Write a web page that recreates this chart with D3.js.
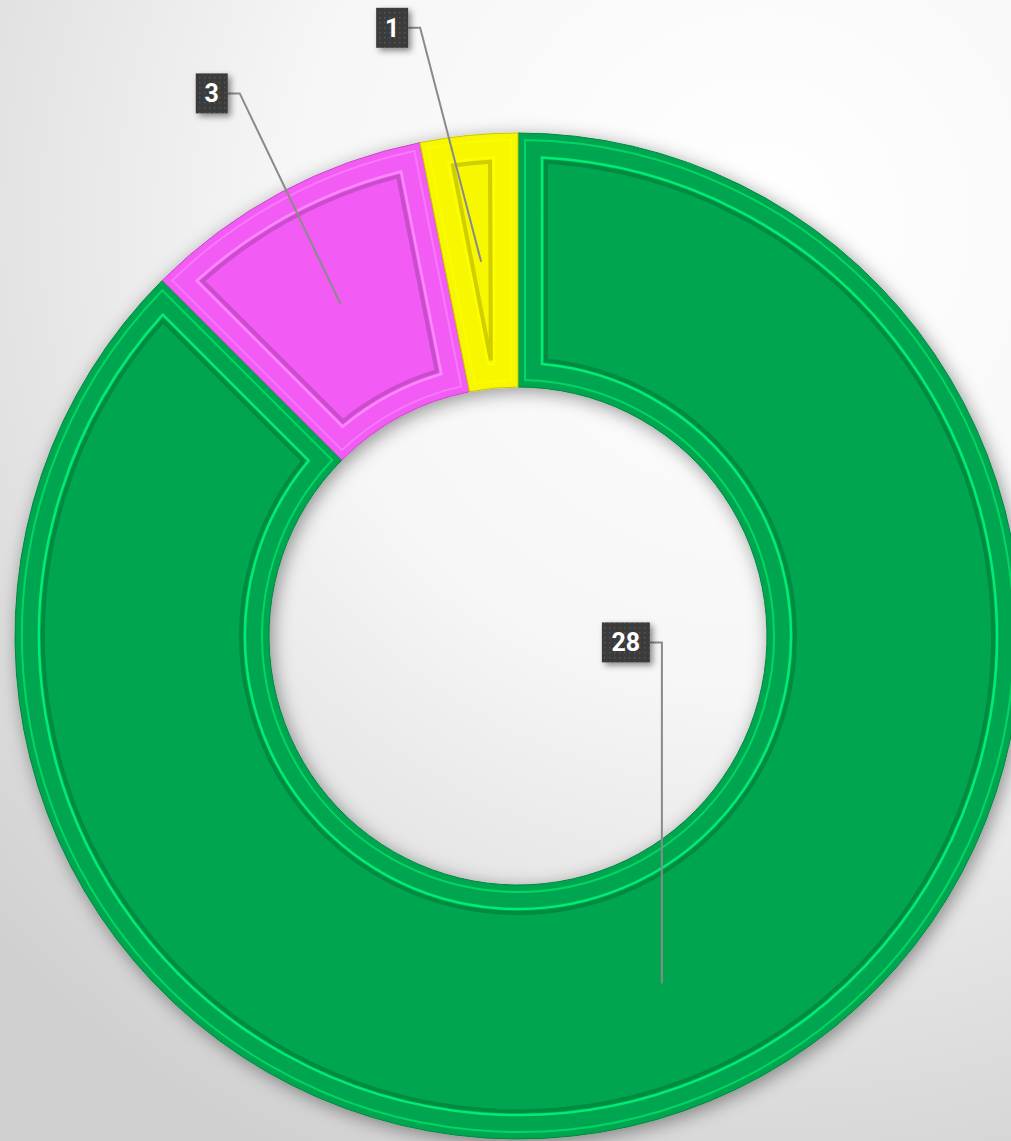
<!DOCTYPE html>
<html>
<head>
<meta charset="utf-8">
<script src="https://cdn.jsdelivr.net/npm/d3@7"></script>
<style>
  html, body { margin: 0; padding: 0; overflow: hidden; background: #fff; }
</style>
</head>
<body>
<div id="chart"></div>
<script>
// slices, clockwise from 12 o'clock
var categories = ["Groen", "Roze", "Geel"];
var values = [28, 3, 1];
var colors = ["#00a64f", "#f25cf4", "#f7f700"];

// where each label box sits relative to its slice centroid (elbow of the leader)
var labelOffsets = [[0, -341], [-101, -211], [-61, -234]];

var width = 1011,
  height = 1141,
  cx = 518,
  cy = 636,
  outerR = 503,
  innerR = 249,
  bevel = 28;

var svg = d3.select("#chart").append("svg")
  .attr("width", width)
  .attr("height", height);

var defs = svg.append("defs");

var bg = defs.append("radialGradient")
  .attr("id", "bg")
  .attr("gradientUnits", "userSpaceOnUse")
  .attr("cx", 760).attr("cy", 220).attr("r", 1050);
bg.append("stop").attr("offset", "0%").attr("stop-color", "#ffffff");
bg.append("stop").attr("offset", "45%").attr("stop-color", "#f6f6f6");
bg.append("stop").attr("offset", "100%").attr("stop-color", "#d0d0d0");

var shadow = defs.append("filter")
  .attr("id", "shadow")
  .attr("x", "-20%").attr("y", "-20%")
  .attr("width", "140%").attr("height", "140%");
shadow.append("feDropShadow")
  .attr("dx", 3).attr("dy", 4)
  .attr("stdDeviation", 9)
  .attr("flood-color", "#000")
  .attr("flood-opacity", 0.4);

var boxShadow = defs.append("filter")
  .attr("id", "boxShadow")
  .attr("x", "-50%").attr("y", "-50%")
  .attr("width", "200%").attr("height", "200%");
boxShadow.append("feDropShadow")
  .attr("dx", 3).attr("dy", 3)
  .attr("stdDeviation", 3)
  .attr("flood-color", "#000")
  .attr("flood-opacity", 0.45);

var dots = defs.append("pattern")
  .attr("id", "dots")
  .attr("patternUnits", "userSpaceOnUse")
  .attr("width", 5).attr("height", 5);
dots.append("rect").attr("width", 5).attr("height", 5).attr("fill", "#3b3b3b");
dots.append("rect").attr("x", 1).attr("y", 1).attr("width", 1.4).attr("height", 1.4).attr("fill", "#575757");

svg.append("rect")
  .attr("width", width)
  .attr("height", height)
  .attr("fill", "url(#bg)");

var data = categories.map(function(c, i) {
  return { name: c, value: values[i], color: colors[i], offset: labelOffsets[i] };
});

var pie = d3.pie()
  .sort(null)
  .value(function(d) { return d.value; });

var arcs = pie(data);

var arc = d3.arc()
  .innerRadius(innerR)
  .outerRadius(outerR);

// inset arcs for the bevelled panel look
function insetArc(d) {
  return d3.arc()
    .innerRadius(innerR + d)
    .outerRadius(outerR - d)
    .padRadius(outerR)
    .padAngle(2 * d / outerR);
}
var frameDark = insetArc(bevel),
  frameLight = insetArc(bevel - 4),
  rim = insetArc(7);

var g = svg.append("g")
  .attr("transform", "translate(" + cx + "," + cy + ")");

g.append("g")
  .attr("filter", "url(#shadow)")
  .selectAll("path")
  .data(arcs)
  .enter().append("path")
  .attr("d", arc)
  .attr("fill", function(d) { return d.data.color; })
  .attr("stroke", function(d) { return d3.rgb(d.data.color).darker(0.6); })
  .attr("stroke-width", 1);

var slice = g.append("g").selectAll("g")
  .data(arcs)
  .enter().append("g");

slice.append("path")
  .attr("d", rim)
  .attr("fill", "none")
  .attr("stroke", function(d) { return d3.rgb(d.data.color).brighter(1.1); })
  .attr("stroke-width", 2)
  .attr("stroke-opacity", 0.6);

slice.append("path")
  .attr("d", frameLight)
  .attr("fill", "none")
  .attr("stroke", function(d) { return d3.rgb(d.data.color).brighter(1.3); })
  .attr("stroke-width", 2.5)
  .attr("stroke-opacity", 0.8);

slice.append("path")
  .attr("d", frameDark)
  .attr("fill", function(d) { return d.data.color; })
  .attr("stroke", function(d) { return d3.rgb(d.data.color).darker(0.6); })
  .attr("stroke-width", 4)
  .attr("stroke-opacity", 0.85);

// leader lines + value boxes
var labels = g.append("g").selectAll("g")
  .data(arcs)
  .enter().append("g");

labels.append("polyline")
  .attr("points", function(d) {
    var c = arc.centroid(d);
    var ex = c[0] + d.data.offset[0],
      ey = c[1] + d.data.offset[1];
    return [[ex - 12, ey], [ex, ey], c].join(" ");
  })
  .attr("fill", "none")
  .attr("stroke", "#8a8a8a")
  .attr("stroke-width", 2);

labels.each(function(d) {
  var c = arc.centroid(d);
  var ex = c[0] + d.data.offset[0],
    ey = c[1] + d.data.offset[1];
  var txt = String(d.data.value);
  var w = txt.length > 1 ? 48 : 32,
    h = 40;
  var lbl = d3.select(this);
  lbl.append("rect")
    .attr("x", ex - 12 - w)
    .attr("y", ey - h / 2)
    .attr("width", w)
    .attr("height", h)
    .attr("fill", "url(#dots)")
    .attr("filter", "url(#boxShadow)");
  lbl.append("text")
    .attr("x", ex - 12 - w / 2)
    .attr("y", ey)
    .attr("dy", "0.36em")
    .attr("text-anchor", "middle")
    .attr("fill", "#fff")
    .style("font-family", "Roboto, 'Open Sans', sans-serif")
    .style("font-weight", "bold")
    .style("font-size", "25px")
    .text(txt);
});
</script>
</body>
</html>
